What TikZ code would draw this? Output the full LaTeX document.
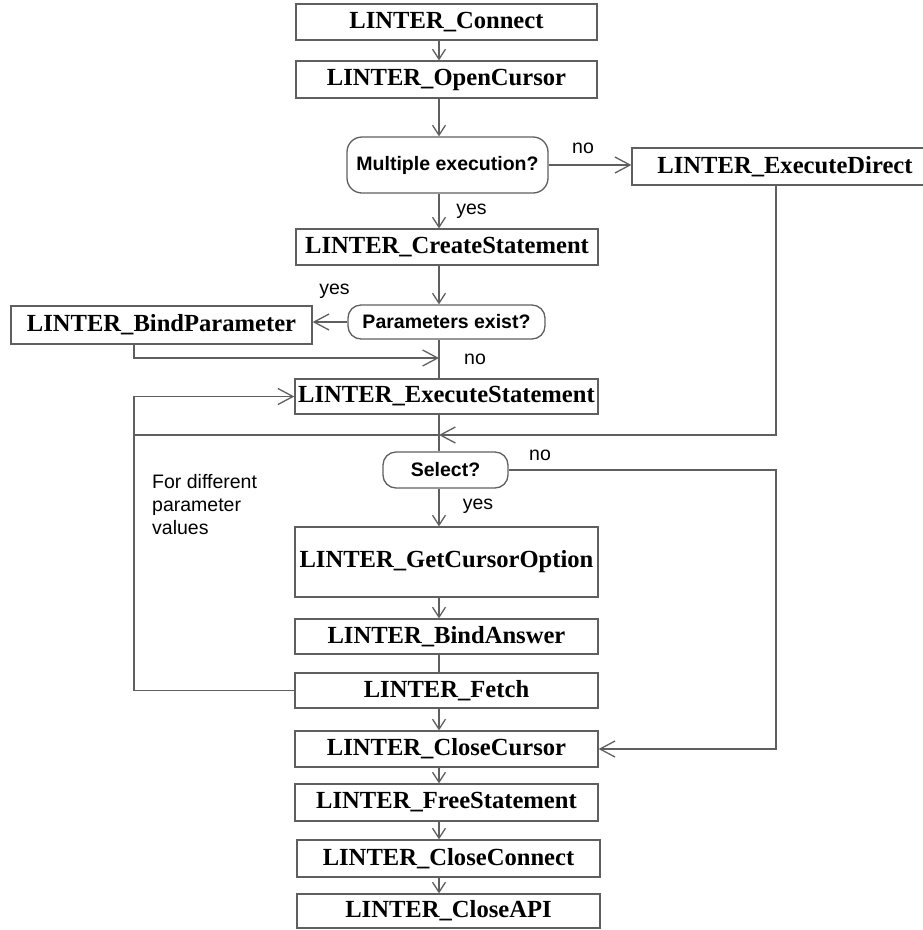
\documentclass[tikz,border=0pt]{standalone}
\usepackage{fontspec}
\setmainfont{Liberation Serif}
\setsansfont{Liberation Sans}
\usetikzlibrary{arrows.meta}
\definecolor{linecol}{RGB}{95,95,95}
\begin{document}
\begin{tikzpicture}[x=1pt,y=-1pt,
  box/.style={draw=linecol, line width=1.3pt, inner sep=0pt, text=black,
    font=\fontsize{24.6}{28}\selectfont\bfseries},
  dec/.style={draw=linecol, line width=1.3pt, rounded corners=13pt, inner sep=0pt, text=black,
    font=\sffamily\bfseries\fontsize{19.5}{22}\selectfont},
  lbl/.style={inner sep=0pt, text=black, font=\sffamily\fontsize{19.5}{23}\selectfont},
  wire/.style={draw=linecol, line width=1.3pt},
  arr/.style={wire, -{Straight Barb[length=10pt,width=13pt,line width=1.3pt]}},
  harr/.style={wire, -{Straight Barb[length=15pt,width=16pt,line width=1.3pt]}}]
\useasboundingbox (0,0) rectangle (922,930);
% column coordinates
\coordinate (cx) at (439,0);
\coordinate (lx) at (134,0);
\coordinate (rx) at (776,0);
\coordinate (m) at (439,435);
\coordinate (j) at (439,358);
% nodes
\node[box, minimum width=301pt, minimum height=36pt] (connect) at (446.5,22) {LINTER\_Connect};
\node[box, minimum width=301pt, minimum height=37pt] (open) at (446.5,79.5) {LINTER\_OpenCursor};
\node[dec, minimum width=201pt, minimum height=56pt, rounded corners=15pt] (multi) at (447.5,165) {Multiple execution?};
\node[box, minimum width=306pt, minimum height=37pt] (direct) at (785,166.5) {LINTER\_ExecuteDirect};
\node[box, minimum width=302pt, minimum height=36pt] (cs) at (447,247) {LINTER\_CreateStatement};
\node[dec, minimum width=197pt, minimum height=34pt] (params) at (446.5,322) {Parameters exist?};
\node[box, minimum width=301pt, minimum height=38pt] (bindp) at (161.5,325) {LINTER\_BindParameter};
\node[box, minimum width=303pt, minimum height=35pt] (es) at (446.5,396.5) {LINTER\_ExecuteStatement};
\node[dec, minimum width=125pt, minimum height=36pt] (select) at (445.5,470) {Select?};
\node[box, minimum width=303pt, minimum height=70pt] (gco) at (446.5,562) {LINTER\_GetCursorOption};
\node[box, minimum width=303pt, minimum height=35pt] (ba) at (446.5,636.5) {LINTER\_BindAnswer};
\node[box, minimum width=303pt, minimum height=35pt] (fetch) at (446.5,690.5) {LINTER\_Fetch};
\node[box, minimum width=303pt, minimum height=36pt] (cc) at (446.5,749) {LINTER\_CloseCursor};
\node[box, minimum width=303pt, minimum height=37pt] (fs) at (446.5,802.5) {LINTER\_FreeStatement};
\node[box, minimum width=303pt, minimum height=37pt] (ccon) at (448.5,858.5) {LINTER\_CloseConnect};
\node[box, minimum width=303pt, minimum height=34pt] (capi) at (448.5,911) {LINTER\_CloseAPI};
% labels
\node[lbl] (lno1) at (583,148) {no};
\node[lbl] (lyes1) at (471.5,211) {yes};
\node[lbl] (lyes2) at (334.5,291) {yes};
\node[lbl] (lno2) at (475,359) {no};
\node[lbl] (lno3) at (540,455) {no};
\node[lbl] (lyes3) at (478,506) {yes};
\node[lbl, align=left, anchor=north west] (note) at (152,474) {For different\\parameter\\values};
% connectors
\draw[arr] (connect.south -| cx) -- (open.north -| cx);
\draw[arr] (open.south -| cx) -- (multi.north -| cx);
\draw[harr] (multi.east) -- (multi.east -| direct.west);
\draw[arr] (multi.south -| cx) -- (cs.north -| cx);
\draw[arr] (cs.south -| cx) -- (params.north -| cx);
\draw[harr] (params.west) -- (params.west -| bindp.east);
\draw[harr] (bindp.south -| lx) -- (lx |- j) -- (j);
\draw[wire] (params.south -| cx) -- (es.north -| cx);
\draw[harr] (fetch.west) -- (lx |- fetch.west) -- (lx |- es.west) -- (es.west);
\draw[wire] (lx |- m) -- (m);
\draw[harr] (direct.south -| rx) -- (rx |- m) -- (m);
\draw[wire] (es.south -| cx) -- (select.north -| cx);
\draw[arr] (select.south -| cx) -- (gco.north -| cx);
\draw[harr] (select.east) -- (rx |- select.east) -- (rx |- cc.east) -- (cc.east);
\draw[arr] (gco.south -| cx) -- (ba.north -| cx);
\draw[wire] (ba.south -| cx) -- (fetch.north -| cx);
\draw[arr] (fetch.south -| cx) -- (cc.north -| cx);
\draw[arr] (cc.south -| cx) -- (fs.north -| cx);
\draw[arr] (fs.south -| cx) -- (ccon.north -| cx);
\draw[arr] (ccon.south -| cx) -- (capi.north -| cx);
\end{tikzpicture}
\end{document}
